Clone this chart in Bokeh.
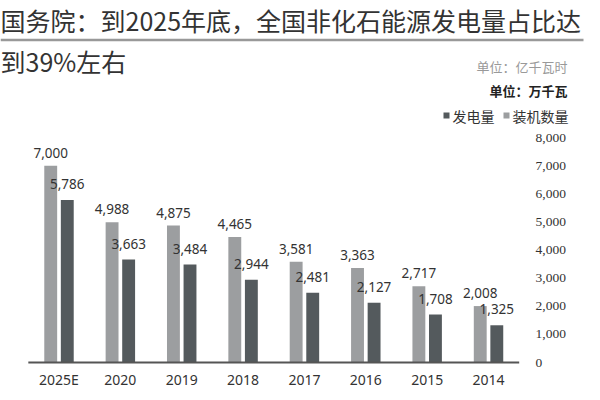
import numpy as np
from bokeh.plotting import figure
from bokeh.models import Range1d, ColumnDataSource, Label, BoxAnnotation, LabelSet
from bokeh.core.properties import value
from bokeh.embed import file_html
from bokeh.resources import INLINE

# ---- data ----
categories = ["2025E", "2020", "2019", "2018", "2017", "2016", "2015", "2014"]
capacity = [7000, 4988, 4875, 4465, 3581, 3363, 2717, 2008]      # 装机数量 (万千瓦), light bars
generation = [5786, 3663, 3484, 2944, 2481, 2127, 1708, 1325]    # 发电量 (亿千瓦时), dark bars
tick_values = [0, 1000, 2000, 3000, 4000, 5000, 6000, 7000, 8000]

title_line1 = "国务院：到2025年底，全国非化石能源发电量占比达"
title_line2 = "到39%左右"
unit1 = "单位：亿千瓦时"
unit2 = "单位：万千瓦"

LIGHT = "#9c9ea0"
DARK = "#545a5d"

W, H = 600, 400
cat_px0, cat_step = 58.5, 61.36          # pixel centre of first category, spacing
base_px, px_per_unit = 362.0, 28.1 / 1000.0

x_start = -cat_px0 / cat_step
x_end = (W - cat_px0) / cat_step
y_start = -(H - base_px) / px_per_unit
y_end = base_px / px_per_unit

p = figure(width=W, height=H, x_range=Range1d(x_start, x_end), y_range=Range1d(y_start, y_end),
           toolbar_location=None, output_backend="svg", min_border=0,
           x_axis_location=None, y_axis_location=None)
p.outline_line_color = None
p.xgrid.visible = False
p.ygrid.visible = False
p.background_fill_color = "white"
p.border_fill_color = "white"

idx = np.arange(len(categories))
off = 0.135
bw = 0.21
src = ColumnDataSource(dict(
    xl=idx - off, xd=idx + off, xc=idx,
    cap=capacity, gen=generation,
    cap_txt=[f"{v:,}" for v in capacity],
    gen_txt=[f"{v:,}" for v in generation],
    cat=categories, zero=[0] * len(categories),
))

p.vbar(x="xl", top="cap", width=bw, source=src, fill_color=LIGHT, line_color=None)
p.vbar(x="xd", top="gen", width=bw, source=src, fill_color=DARK, line_color=None)

# baseline
p.segment(x0=[-0.5], y0=[0], x1=[len(categories) - 0.5], y1=[0], line_color="#555555", line_width=2)

num_font = value("Noto Sans")
p.text(x="xl", y="cap", text="cap_txt", source=src, text_font=num_font, text_font_size="13.5px",
       text_color="#333333", text_align="center", text_baseline="bottom", y_offset=-8)
p.text(x="xd", y="gen", text="gen_txt", source=src, text_font=num_font, text_font_size="13.5px",
       text_color="#333333", text_align="center", text_baseline="bottom", y_offset=-11)
p.text(x="xc", y="zero", text="cat", source=src, text_font=num_font, text_font_size="14px",
       text_color="#333333", text_align="center", text_baseline="middle", y_offset=17)

# right-hand tick labels
tsrc = ColumnDataSource(dict(y=tick_values, t=[f"{v:,}" for v in tick_values],
                             x=[535] * len(tick_values)))
p.add_layout(LabelSet(x="x", y="y", text="t", source=tsrc, x_units="screen", y_units="data",
                      text_font="Noto Sans", text_font_size="13.5px", text_color="#333333",
                      text_align="left", text_baseline="middle"))

def sy(win_y):
    return H - win_y

cjk = "Noto Sans CJK SC"
p.add_layout(Label(x=0, y=sy(19), x_units="screen", y_units="screen", text=title_line1,
                   text_font=cjk, text_font_size="25px", text_color="#333333",
                   text_align="left", text_baseline="middle"))
p.add_layout(Label(x=0, y=sy(60), x_units="screen", y_units="screen", text=title_line2,
                   text_font=cjk, text_font_size="25px", text_color="#333333",
                   text_align="left", text_baseline="middle"))
p.add_layout(BoxAnnotation(left=0, right=583, bottom=sy(40.8), top=sy(38.3),
                           left_units="screen", right_units="screen",
                           bottom_units="screen", top_units="screen",
                           fill_color="#999999", fill_alpha=1, line_color=None))

p.add_layout(Label(x=567, y=sy(66), x_units="screen", y_units="screen", text=unit1,
                   text_font=cjk, text_font_size="13px", text_color="#999999",
                   text_align="right", text_baseline="middle"))
p.add_layout(Label(x=567, y=sy(90), x_units="screen", y_units="screen", text=unit2,
                   text_font=cjk, text_font_size="13px", text_color="#222222", text_font_style="bold",
                   text_align="right", text_baseline="middle"))

# legend row: ■发电量 ■装机数量
p.add_layout(BoxAnnotation(left=443, right=449, bottom=sy(118), top=sy(112),
                           left_units="screen", right_units="screen",
                           bottom_units="screen", top_units="screen",
                           fill_color=DARK, fill_alpha=1, line_color=None))
p.add_layout(Label(x=452, y=sy(115), x_units="screen", y_units="screen", text="发电量",
                   text_font=cjk, text_font_size="14px", text_color="#333333",
                   text_align="left", text_baseline="middle"))
p.add_layout(BoxAnnotation(left=503, right=509, bottom=sy(118), top=sy(112),
                           left_units="screen", right_units="screen",
                           bottom_units="screen", top_units="screen",
                           fill_color=LIGHT, fill_alpha=1, line_color=None))
p.add_layout(Label(x=568, y=sy(115), x_units="screen", y_units="screen", text="装机数量",
                   text_font=cjk, text_font_size="14px", text_color="#333333",
                   text_align="right", text_baseline="middle"))

open("out.html", "w").write(file_html(p, INLINE))
